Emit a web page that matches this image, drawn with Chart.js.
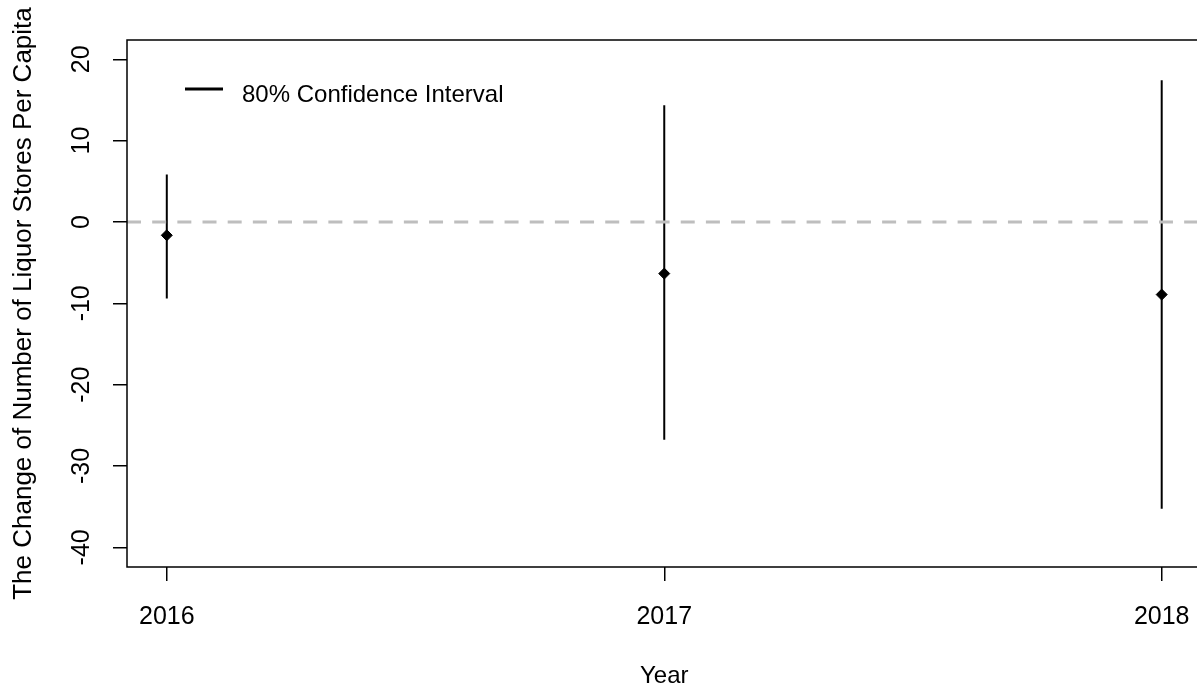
<!DOCTYPE html>
<html>
<head>
<meta charset="utf-8">
<title>Liquor stores per capita</title>
<script src="https://cdn.jsdelivr.net/npm/chart.js@4.4.0/dist/chart.umd.min.js"></script>
<style>
  html, body { margin: 0; padding: 0; background: #fff; overflow: hidden; }
  #wrap { width: 1197px; height: 696px; overflow: hidden; }
</style>
</head>
<body>
<div id="wrap"><canvas id="myChart" width="1208" height="696"></canvas></div>
<script>
// ESTIMATES PER YEAR WITH 80% BOUNDS
const years = [2016, 2017, 2018];
const estimates = [-1.64, -6.35, -8.93];
const lowerBounds = [-9.42, -26.77, -35.25];
const upperBounds = [5.83, 14.35, 17.43];
const yTicks = [-40, -30, -20, -10, 0, 10, 20];
const legendLabel = '80% Confidence Interval';

// canvas is a bit wider than the page, the right side of the frame falls outside
const xMin = 2015.92, xMax = 2018.08;
const yMin = -42.42, yMax = 22.37;

const FONT = 'Liberation Sans, Arial, sans-serif';
Chart.defaults.font.family = FONT;
Chart.defaults.color = '#000';

// one vertical segment per year
const ciSets = years.map((yr, i) => ({
  type: 'line',
  data: [{ x: yr, y: lowerBounds[i] }, { x: yr, y: upperBounds[i] }],
  borderColor: '#000',
  borderWidth: 2,
  pointRadius: 0
}));

// frame (top, left, bottom) + legend in the top left corner
const boxAndLegend = {
  id: 'boxAndLegend',
  afterDatasetsDraw(chart) {
    const { ctx, chartArea: a } = chart;
    ctx.save();
    ctx.strokeStyle = '#000';
    ctx.lineWidth = 1.5;
    ctx.beginPath();
    ctx.moveTo(chart.width, a.top);
    ctx.lineTo(a.left, a.top);
    ctx.lineTo(a.left, a.bottom);
    ctx.lineTo(chart.width, a.bottom);
    ctx.stroke();
    ctx.lineWidth = 3;
    ctx.beginPath();
    ctx.moveTo(185, 89);
    ctx.lineTo(223, 89);
    ctx.stroke();
    ctx.font = '24px ' + FONT;
    ctx.fillStyle = '#000';
    ctx.textBaseline = 'alphabetic';
    ctx.fillText(legendLabel, 242, 101.5);
    ctx.restore();
  }
};

const ctx = document.getElementById('myChart').getContext('2d');
const myChart = new Chart(ctx, {
  type: 'scatter',
  data: {
    datasets: [
      {
        type: 'line',
        data: [{ x: xMin, y: 0 }, { x: xMax, y: 0 }],
        borderColor: '#bebebe',
        borderWidth: 3,
        borderDash: [14, 11.17],
        pointRadius: 0
      },
      ...ciSets,
      {
        data: years.map((yr, i) => ({ x: yr, y: estimates[i] })),
        pointStyle: 'rectRot',
        pointRadius: 5.5,
        backgroundColor: '#000',
        borderColor: '#000',
        borderWidth: 1
      }
    ]
  },
  options: {
    responsive: false,
    animation: false,
    events: [],
    layout: { padding: { top: 40, right: 0, left: 0, bottom: 0 } },
    plugins: { legend: { display: false }, tooltip: { enabled: false } },
    scales: {
      x: {
        type: 'linear',
        min: xMin,
        max: xMax,
        afterBuildTicks: (scale) => { scale.ticks = years.map(v => ({ value: v })) },
        afterFit: (scale) => {
          scale.height = 129
          scale.paddingLeft = 0
          scale.paddingRight = 0
        },
        grid: { drawOnChartArea: false, tickLength: 14, color: '#000', lineWidth: 1.5 },
        border: { display: false },
        ticks: {
          font: { size: 25 },
          padding: 21,
          maxRotation: 0,
          autoSkip: false,
          callback: (v) => String(v)
        },
        title: { display: true, text: 'Year', font: { size: 24 }, padding: { top: 0, bottom: 5 } }
      },
      y: {
        min: yMin,
        max: yMax,
        afterBuildTicks: (scale) => { scale.ticks = yTicks.map(v => ({ value: v })) },
        afterFit: (scale) => {
          scale.width = 127
          scale.paddingTop = 0
          scale.paddingBottom = 0
        },
        grid: { drawOnChartArea: false, tickLength: 14, color: '#000', lineWidth: 1.5 },
        border: { display: false },
        ticks: {
          font: { size: 25 },
          padding: 12.5,
          minRotation: 90,
          maxRotation: 90,
          crossAlign: 'center',
          autoSkip: false,
          callback: (v) => String(v)
        },
        title: {
          display: true,
          text: 'The Change of Number of Liquor Stores Per Capita',
          font: { size: 26 },
          padding: { top: 8, bottom: 0 }
        }
      }
    }
  },
  plugins: [boxAndLegend]
});
</script>
</body>
</html>
